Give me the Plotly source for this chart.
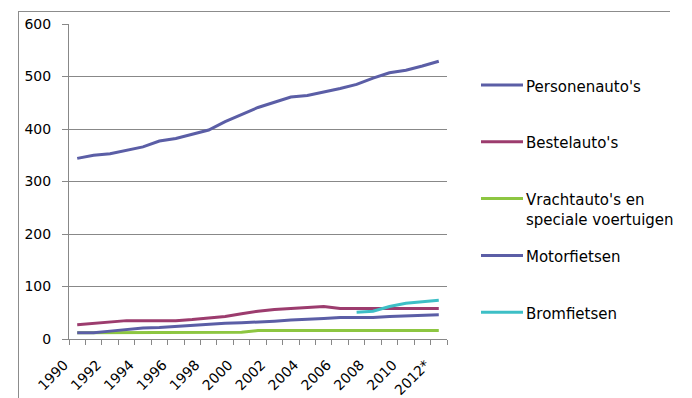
import plotly.graph_objects as go

# Categories (years) and series values
years = [str(y) for y in range(1990, 2012)] + ["2012*"]
personenautos = [344, 350, 353, 360, 366, 377, 382, 390, 398, 414, 428, 441, 451, 461, 464, 470, 477, 485, 497, 507, 512, 520, 529]
bestelautos = [27, 30, 32, 35, 35, 35, 35, 37, 40, 43, 48, 53, 56, 58, 59, 62, 58, 58, 58, 58, 58, 58, 58]
vrachtautos = [12, 12, 13, 13, 13, 13, 13, 13, 13, 13, 13, 16, 16, 16, 16, 16, 16, 16, 16, 16, 16, 16, 16]
motorfietsen = [12, 12, 15, 18, 21, 22, 24, 27, 28, 30, 31, 32, 34, 36, 37, 39, 41, 41, 41, 43, 44, 46, 46]
bromfietsen = [None] * 17 + [51, 53, 62, 68, 71, 74]

series_names = ["Personenauto's", "Bestelauto's", "Vrachtauto's en<br>speciale voertuigen",
                "Motorfietsen", "Bromfietsen"]
series_values = [personenautos, bestelautos, vrachtautos, motorfietsen, bromfietsen]
series_colors = ["#5B5EA6", "#9C3C6E", "#8DC641", "#5B5EA6", "#3DBFC6"]

y_ticks = [0, 100, 200, 300, 400, 500, 600]

# pixel geometry: paper area and plot area
W, H = 692, 398
PL = 40                      # left edge of paper area
L, T, R, B = 69, 24, 447, 339  # plot area
label_shift = 13             # rotated year labels sit this many px left of each category
pw, ph = R - PL, B - T


def px_x(p):
    return (p - PL) / pw


def px_y(p):
    return (B - p) / ph


xs = list(range(len(years)))
n = len(years)
grey = "#888888"
font = "DejaVu Sans"

fig = go.Figure()
for name, vals, col in zip(series_names, series_values, series_colors):
    fig.add_trace(go.Scatter(
        x=xs, y=vals, mode="lines", name=name.replace("<br>", " "),
        line=dict(color=col, width=3), showlegend=False, connectgaps=False,
        hoverinfo="skip",
    ))

label_idx = list(range(0, n, 2))
fig.update_layout(
    # main category axis: line and boundary tick marks only
    xaxis=dict(
        domain=[px_x(L), 1],
        range=[-0.5, n - 0.5],
        showticklabels=False,
        ticks="",
        automargin=False,
        showline=True, linecolor=grey, linewidth=1,
        showgrid=False, zeroline=False,
        minor=dict(tickvals=[i - 0.5 for i in range(n + 1)],
                   ticks="outside", ticklen=5, tickcolor=grey, tickwidth=1, showgrid=False),
    ),
    yaxis=dict(
        range=[0, 600],
        tickvals=y_ticks,
        ticks="outside", ticklen=6, tickcolor=grey, tickwidth=1,
        ticklabelstandoff=8,
        automargin=False,
        tickfont=dict(family=font, size=14, color="#000000"),
        showline=True, linecolor=grey, linewidth=1,
        showgrid=True, gridcolor=grey, gridwidth=1,
        zeroline=False,
    ),
    # label axis: same scale as the main axis, slid left by label_shift px
    xaxis2=dict(
        domain=[px_x(L - label_shift), px_x(R - label_shift)],
        anchor="y2", side="bottom",
        range=[-0.5, n - 0.5],
        tickmode="array",
        tickvals=label_idx,
        ticktext=[years[i] for i in label_idx],
        tickangle=-45,
        ticks="",
        ticklabelstandoff=14,
        automargin=False,
        tickfont=dict(family=font, size=14, color="#000000"),
        showline=False, showgrid=False, zeroline=False,
    ),
    yaxis2=dict(
        domain=[0, 1], anchor="x2", range=[0, 600],
        showticklabels=False, ticks="", showline=False,
        showgrid=False, zeroline=False, automargin=False,
    ),
)
fig.add_trace(go.Scatter(x=[label_idx[0]], y=[None], xaxis="x2", yaxis="y2",
                         showlegend=False, hoverinfo="skip", mode="lines"))

shapes = [
    # chart frame (top and left edges)
    dict(type="line", xref="paper", yref="paper", x0=px_x(18), x1=px_x(670),
         y0=px_y(11.5), y1=px_y(11.5), line=dict(color="#8c8c8c", width=1)),
    dict(type="line", xref="paper", yref="paper", x0=px_x(18.5), x1=px_x(18.5),
         y0=px_y(11.5), y1=px_y(400), line=dict(color="#8c8c8c", width=1)),
]
annotations = []
leg_top, leg_step = 85, 56.8
for k, (name, col) in enumerate(zip(series_names, series_colors)):
    yc = leg_top + k * leg_step
    shapes.append(dict(type="line", xref="paper", yref="paper",
                       x0=px_x(481), x1=px_x(523), y0=px_y(yc), y1=px_y(yc),
                       line=dict(color=col, width=3)))
    annotations.append(dict(
        xref="paper", yref="paper", x=px_x(524), y=px_y(yc - 9.5),
        xanchor="left", yanchor="top", align="left", showarrow=False,
        text=name, font=dict(family=font, size=15, color="#000000"),
    ))

fig.update_layout(
    width=W, height=H,
    margin=dict(l=PL, r=W - R, t=T, b=H - B),
    paper_bgcolor="white", plot_bgcolor="rgba(0,0,0,0)",
    shapes=shapes, annotations=annotations,
    showlegend=False,
)

fig.write_html("out.html")
